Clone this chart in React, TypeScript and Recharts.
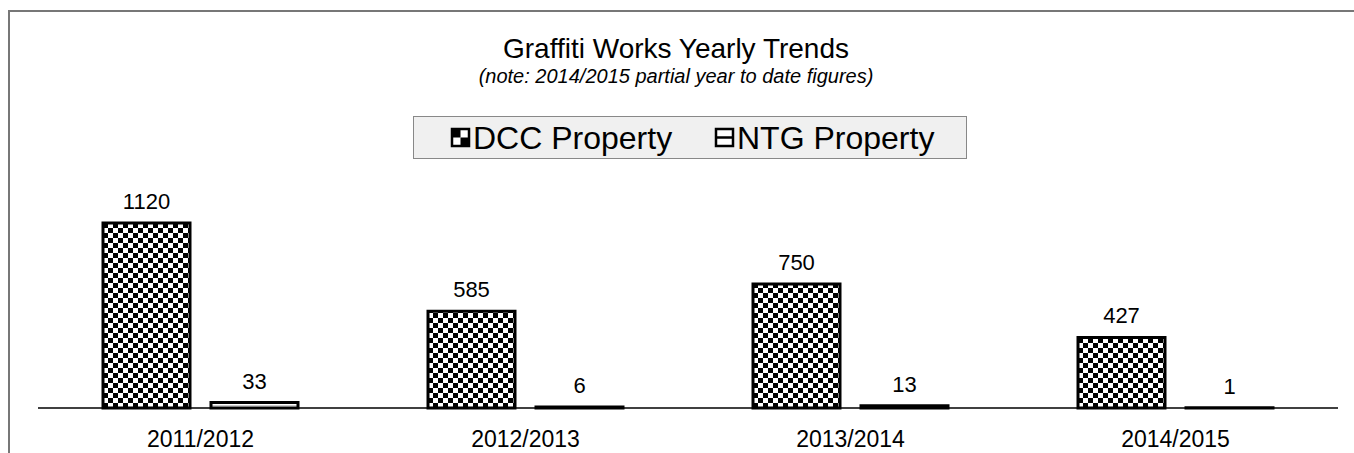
import { Bar, BarChart, LabelList, XAxis, YAxis } from "recharts";

const years = ["2011/2012", "2012/2013", "2013/2014", "2014/2015"];
const dccProperty = [1120, 585, 750, 427];
const ntgProperty = [33, 6, 13, 1];

const series = [
  { key: "dcc", name: "DCC Property", fill: "url(#checker)" },
  { key: "ntg", name: "NTG Property", fill: "url(#stripes)" },
];

const data = years.map((year, i) => ({ year, dcc: dccProperty[i], ntg: ntgProperty[i] }));

const font = '"Liberation Sans", Arial, sans-serif';

function LegendIcon({ kind, x, y }: { kind: string; x: number; y: number }) {
  const s = 17;
  if (kind === "dcc") {
    return (
      <g>
        <rect x={x} y={y} width={s} height={s} fill="#fff" stroke="#000" strokeWidth={2.5} />
        <rect x={x + 1} y={y + 1} width={s / 2 - 1} height={s / 2 - 1} fill="#000" />
        <rect x={x + s / 2} y={y + s / 2} width={s / 2 - 1} height={s / 2 - 1} fill="#000" />
      </g>
    );
  }
  return (
    <g>
      <rect x={x} y={y} width={s} height={s} fill="#fff" stroke="#000" strokeWidth={2.5} />
      <line x1={x} x2={x + s} y1={y + s / 2} y2={y + s / 2} stroke="#000" strokeWidth={2.5} />
    </g>
  );
}

export default function App() {
  return (
    <div
      style={{
        position: "absolute",
        left: 0,
        top: 0,
        width: 1354,
        height: 453,
        overflow: "hidden",
        background: "#fff",
        fontFamily: font,
      }}
    >
      <div
        style={{
          position: "absolute",
          left: 8,
          top: 10,
          right: 0,
          bottom: 0,
          borderTop: "2px solid #777",
          borderLeft: "2px solid #777",
        }}
      />
      <div style={{ position: "absolute", left: 0, top: 0 }}>
        <BarChart
          width={1354}
          height={453}
          data={data}
          margin={{ top: 223, right: 16, bottom: 15, left: 38 }}
          barCategoryGap="20%"
          barGap={21}
        >
          <defs>
            <pattern id="checker" patternUnits="userSpaceOnUse" width={10} height={10} x={3} y={3}>
              <rect width={10} height={10} fill="#fff" />
              <rect width={5} height={5} fill="#000" />
              <rect x={5} y={5} width={5} height={5} fill="#000" />
            </pattern>
            <pattern id="stripes" patternUnits="userSpaceOnUse" width={6} height={6}>
              <rect width={6} height={6} fill="#fff" />
              <rect y={3} width={6} height={1} fill="#ccc" />
            </pattern>
          </defs>
          <XAxis
            dataKey="year"
            height={30}
            axisLine={{ stroke: "#000", strokeWidth: 1.5 }}
            tickLine={false}
            tickSize={6}
            tickMargin={17}
            tick={{ fontSize: 23, fill: "#000", fontFamily: font }}
          />
          <YAxis hide domain={[0, 1120]} />
          {series.map((s) => (
            <Bar
              key={s.key}
              dataKey={s.key}
              name={s.name}
              fill={s.fill}
              stroke="#000"
              strokeWidth={3}
              isAnimationActive={false}
            >
              <LabelList
                dataKey={s.key}
                position="top"
                offset={14}
                style={{ fontSize: 22, fill: "#000", fontFamily: font }}
              />
            </Bar>
          ))}
        </BarChart>
      </div>
      <svg
        width={1354}
        height={453}
        style={{ position: "absolute", left: 0, top: 0, pointerEvents: "none" }}
      >
        <text x={676} y={58} textAnchor="middle" fontSize={28} fontFamily={font} fill="#000">
          Graffiti Works Yearly Trends
        </text>
        <text
          x={676}
          y={83}
          textAnchor="middle"
          fontSize={20}
          fontStyle="italic"
          fontFamily={font}
          fill="#000"
        >
          (note: 2014/2015 partial year to date figures)
        </text>
        <rect x={413.5} y={116.5} width={553} height={42} fill="#f0f0f0" stroke="#888" />
        {series.map((s, i) => {
          const iconX = i === 0 ? 452 : 716;
          return (
            <g key={s.key}>
              <LegendIcon kind={s.key} x={iconX} y={129} />
              <text x={iconX + 21} y={149} fontSize={32} fontFamily={font} fill="#000">
                {s.name}
              </text>
            </g>
          );
        })}
      </svg>
    </div>
  );
}
